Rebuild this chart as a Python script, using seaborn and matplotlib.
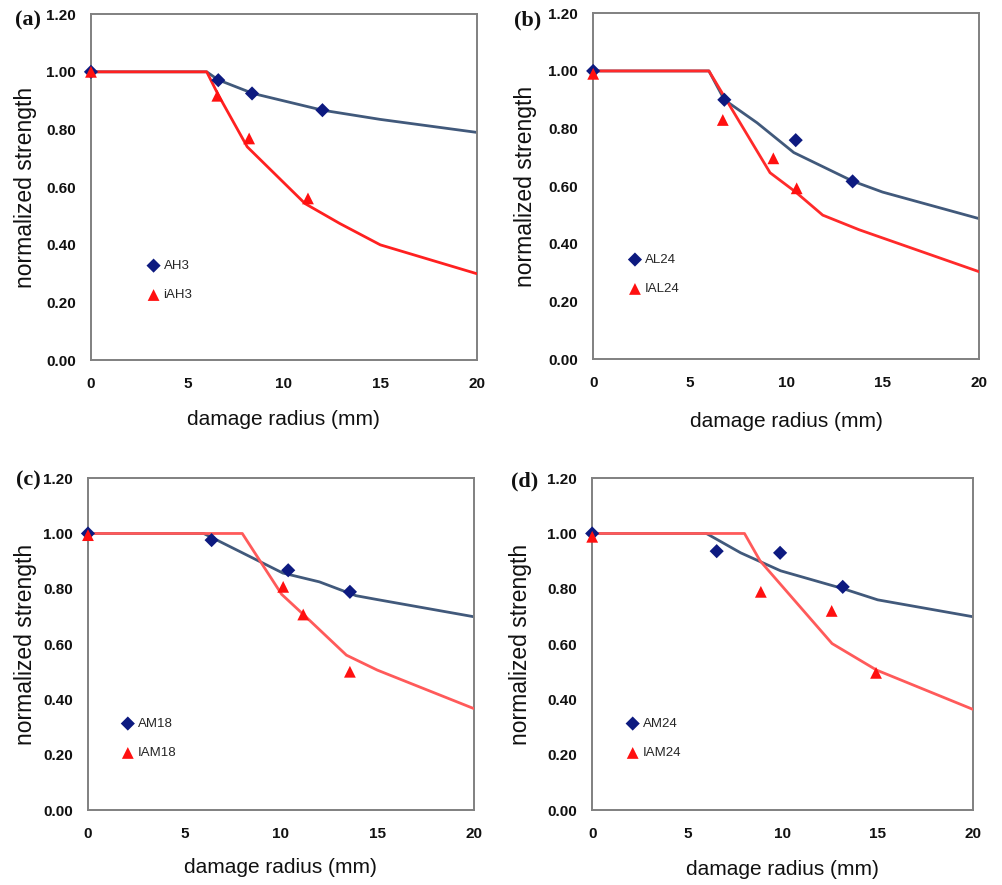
import numpy as np
import pandas as pd
import matplotlib
matplotlib.use("Agg")
import matplotlib.pyplot as plt
import seaborn as sns

sns.set_style("white")
plt.rcParams["font.family"] = ["Liberation Sans", "DejaVu Sans"]

# ---- data -------------------------------------------------------------
X_TICKS = [0, 5, 10, 15, 20]
Y_TICKS = [0.0, 0.2, 0.4, 0.6, 0.8, 1.0, 1.2]

# (a) AH3 / iAH3
A_LABELS = ["AH3", "iAH3"]
A_BLUE_LINE_X = [0, 6, 6.6, 8.4, 12, 15, 20]
A_BLUE_LINE_Y = [1.00, 1.00, 0.972, 0.925, 0.867, 0.835, 0.79]
A_RED_LINE_X = [0, 6, 6.6, 8.1, 11.1, 12.9, 15, 20]
A_RED_LINE_Y = [1.00, 1.00, 0.92, 0.74, 0.543, 0.474, 0.40, 0.30]
A_BLUE_PTS_X = [0, 6.6, 8.35, 12.0]
A_BLUE_PTS_Y = [1.00, 0.971, 0.925, 0.867]
A_RED_PTS_X = [0, 6.55, 8.2, 11.25]
A_RED_PTS_Y = [1.00, 0.917, 0.769, 0.561]

# (b) AL24 / IAL24
B_LABELS = ["AL24", "IAL24"]
B_BLUE_LINE_X = [0, 6, 6.8, 8.5, 10.4, 13.45, 15, 20]
B_BLUE_LINE_Y = [1.00, 1.00, 0.90, 0.82, 0.717, 0.618, 0.58, 0.488]
B_RED_LINE_X = [0, 6, 9.17, 10.5, 11.9, 13.8, 20]
B_RED_LINE_Y = [1.00, 1.00, 0.647, 0.58, 0.50, 0.449, 0.304]
B_BLUE_PTS_X = [0, 6.8, 10.5, 13.45]
B_BLUE_PTS_Y = [1.00, 0.90, 0.760, 0.617]
B_RED_PTS_X = [0, 6.72, 9.34, 10.55]
B_RED_PTS_Y = [0.99, 0.83, 0.697, 0.593]

# (c) AM18 / IAM18
C_LABELS = ["AM18", "IAM18"]
C_BLUE_LINE_X = [0, 6, 10.1, 12.0, 13.9, 15, 20]
C_BLUE_LINE_Y = [1.00, 1.00, 0.857, 0.825, 0.775, 0.761, 0.699]
C_RED_LINE_X = [0, 8, 10.04, 11.2, 13.4, 15, 20]
C_RED_LINE_Y = [1.00, 1.00, 0.78, 0.705, 0.56, 0.506, 0.367]
C_BLUE_PTS_X = [0, 6.41, 10.38, 13.58]
C_BLUE_PTS_Y = [1.00, 0.976, 0.867, 0.789]
C_RED_PTS_X = [0, 10.12, 11.16, 13.58]
C_RED_PTS_Y = [0.994, 0.807, 0.707, 0.50]

# (d) AM24 / IAM24
D_LABELS = ["AM24", "IAM24"]
D_BLUE_LINE_X = [0, 6, 7.8, 9.9, 13.2, 15, 20]
D_BLUE_LINE_Y = [1.00, 1.00, 0.93, 0.865, 0.80, 0.76, 0.699]
D_RED_LINE_X = [0, 8, 8.82, 12.6, 14.94, 20]
D_RED_LINE_Y = [1.00, 1.00, 0.901, 0.602, 0.506, 0.364]
D_BLUE_PTS_X = [0, 6.54, 9.87, 13.16]
D_BLUE_PTS_Y = [1.00, 0.936, 0.930, 0.807]
D_RED_PTS_X = [0, 8.86, 12.58, 14.91]
D_RED_PTS_Y = [0.988, 0.789, 0.72, 0.496]

PANELS = [
    ("(a)", A_LABELS, A_BLUE_LINE_X, A_BLUE_LINE_Y, A_RED_LINE_X, A_RED_LINE_Y,
     A_BLUE_PTS_X, A_BLUE_PTS_Y, A_RED_PTS_X, A_RED_PTS_Y),
    ("(b)", B_LABELS, B_BLUE_LINE_X, B_BLUE_LINE_Y, B_RED_LINE_X, B_RED_LINE_Y,
     B_BLUE_PTS_X, B_BLUE_PTS_Y, B_RED_PTS_X, B_RED_PTS_Y),
    ("(c)", C_LABELS, C_BLUE_LINE_X, C_BLUE_LINE_Y, C_RED_LINE_X, C_RED_LINE_Y,
     C_BLUE_PTS_X, C_BLUE_PTS_Y, C_RED_PTS_X, C_RED_PTS_Y),
    ("(d)", D_LABELS, D_BLUE_LINE_X, D_BLUE_LINE_Y, D_RED_LINE_X, D_RED_LINE_Y,
     D_BLUE_PTS_X, D_BLUE_PTS_Y, D_RED_PTS_X, D_RED_PTS_Y),
]

# ---- layout -----------------------------------------------------------
AX_RECTS = [
    [0.0908, 0.593, 0.385, 0.391],
    [0.592, 0.594, 0.385, 0.391],
    [0.0878, 0.0847, 0.385, 0.375],
    [0.591, 0.0847, 0.380, 0.375],
]
XLABEL_Y = [-0.170, -0.180, -0.172, -0.180]
YLABEL_X = [-0.171, -0.176, -0.163, -0.189]
LEGEND_ANCHOR = [(0.152, 0.290), (0.098, 0.305), (0.093, 0.278), (0.096, 0.278)]
TAG_POS = [(28, 20), (528, 20), (28, 480), (525, 481)]
RED_LINE_COLORS = ["#ff2020", "#ff2a2a", "#ff5a5a", "#ff5a5a"]

BLUE_LINE = "#41597b"
BLUE_MARK = "#0d1a80"
RED_MARK = "#ff1010"
SPINE = "#808080"

fig = plt.figure(figsize=(10.02, 8.85), dpi=100)

for i, (tag, labels, blx, bly, rlx, rly, bpx, bpy, rpx, rpy) in enumerate(PANELS):
    ax = fig.add_axes(AX_RECTS[i])

    sns.lineplot(x=blx, y=bly, ax=ax, color=BLUE_LINE, linewidth=2.0,
                 sort=False, estimator=None, zorder=2)
    sns.lineplot(x=rlx, y=rly, ax=ax, color=RED_LINE_COLORS[i], linewidth=2.0,
                 sort=False, estimator=None, zorder=3)
    sns.scatterplot(x=bpx, y=bpy, ax=ax, marker="D", color=BLUE_MARK, s=52,
                    edgecolor="none", clip_on=False, zorder=4, label=labels[0])
    sns.scatterplot(x=rpx, y=rpy, ax=ax, marker="^", color=RED_MARK, s=72,
                    edgecolor="none", clip_on=False, zorder=5, label=labels[1])

    ax.set_xlim(0, 20)
    ax.set_ylim(0, 1.2)
    ax.set_xticks(X_TICKS)
    ax.set_yticks(Y_TICKS)
    ax.set_xticklabels([str(t) for t in X_TICKS])
    ax.set_yticklabels([f"{t:.2f}" for t in Y_TICKS])

    for side in ["left", "bottom", "top", "right"]:
        ax.spines[side].set_visible(True)
        ax.spines[side].set_color(SPINE)
        ax.spines[side].set_linewidth(1.4)

    ax.tick_params(axis="both", direction="out", length=5, width=1.3,
                   color=SPINE, labelcolor="#111111", labelsize=11, pad=6)
    ax.tick_params(axis="x", pad=7)
    for lab in ax.get_xticklabels() + ax.get_yticklabels():
        lab.set_fontweight("bold")

    ax.set_xlabel("damage radius (mm)", fontsize=15, color="#111111")
    ax.set_ylabel("normalized strength", fontsize=16.5, color="#111111")
    ax.xaxis.label.set_va("center")
    ax.yaxis.label.set_va("center")
    ax.xaxis.set_label_coords(0.5, XLABEL_Y[i])
    ax.yaxis.set_label_coords(YLABEL_X[i], 0.5)

    ax.legend(loc="upper left", bbox_to_anchor=LEGEND_ANCHOR[i], frameon=False,
              fontsize=9.5, handlelength=0.6, handletextpad=0.45,
              labelspacing=1.3, borderpad=0.0, borderaxespad=0.0)

    fig.text(TAG_POS[i][0] / 1002, 1 - TAG_POS[i][1] / 885, tag,
             family="Liberation Serif", fontweight="bold", fontsize=16,
             ha="center", va="center", color="#111111")

fig.savefig("out.png", dpi=100)
